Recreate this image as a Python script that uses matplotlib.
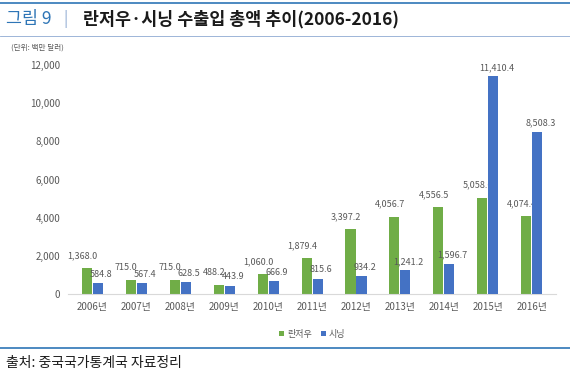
import matplotlib.pyplot as plt
import numpy as np
from matplotlib.lines import Line2D

plt.rcParams['font.family'] = ['Noto Sans CJK KR', 'DejaVu Sans']

years = ["2006년", "2007년", "2008년", "2009년", "2010년", "2011년",
         "2012년", "2013년", "2014년", "2015년", "2016년"]
lanzhou = [1368.0, 715.0, 715.0, 488.2, 1060.0, 1879.4,
           3397.2, 4056.7, 4556.5, 5058.6, 4074.4]
xining = [584.8, 567.4, 628.5, 443.9, 666.9, 815.6,
          934.2, 1241.2, 1596.7, 11410.4, 8508.3]
yticks = [0, 2000, 4000, 6000, 8000, 10000, 12000]

GREEN = "#70ad47"
BLUE = "#4472c4"
GRAY = "#595959"

fig = plt.figure(figsize=(5.7, 3.8), dpi=100)
ax = fig.add_axes([0.12, 0.226, 0.855, 0.603])

x = np.arange(len(years))
w = 0.23
ax.bar(x - 0.125, lanzhou, w, color=GREEN, label="란저우", zorder=2)
ax.bar(x + 0.125, xining, w, color=BLUE, label="시닝", zorder=3)

for xi, v in zip(x, lanzhou):
    ax.text(xi - 0.23, v + 420, f"{v:,.1f}", ha="center", va="bottom",
            fontsize=6.5, color=GRAY, zorder=1)
for xi, v in zip(x, xining):
    ax.text(xi + 0.2, v + 220, f"{v:,.1f}", ha="center", va="bottom",
            fontsize=6.5, color=GRAY, zorder=4)

ax.set_xlim(-0.55, len(years) - 0.45)
ax.set_ylim(0, 12000)
ax.set_yticks(yticks)
ax.set_yticklabels([f"{t:,}" for t in yticks], fontsize=7, color=GRAY)
ax.set_xticks(x)
ax.set_xticklabels(years, fontsize=7, color=GRAY)
ax.tick_params(length=0, pad=6)
for s in ["top", "right", "left"]:
    ax.spines[s].set_visible(False)
ax.spines["bottom"].set_color("#d9d9d9")

ax.legend(loc="upper center", bbox_to_anchor=(0.5, -0.12), ncol=2, frameon=False,
          fontsize=6.5, handlelength=0.6, handleheight=0.6, columnspacing=1.0,
          handletextpad=0.3, labelcolor=GRAY)

# header / footer
fig.add_artist(Line2D([0, 1], [0.992, 0.992], color="#2e75b6", lw=1.2))
fig.add_artist(Line2D([0, 1], [0.906, 0.906], color="#8eaad2", lw=0.6))
fig.add_artist(Line2D([0, 1], [0.085, 0.085], color="#2e75b6", lw=1.2))

fig.text(0.01, 0.95, "그림 9", fontsize=12.5, color="#2e75b6", va="center")
fig.text(0.112, 0.95, "|", fontsize=11, color="#8eaad2", va="center")
fig.text(0.145, 0.95, "란저우·시닝 수출입 총액 추이(2006-2016)", fontsize=12.5,
         color="#1a1a1a", va="center", fontweight="bold")
fig.text(0.02, 0.876, "(단위: 백만 달러)", fontsize=5.5, color=GRAY, va="center")
fig.text(0.01, 0.045, "출처: 중국국가통계국 자료정리", fontsize=10, color="#1a1a1a", va="center")

fig.savefig("out.png", dpi=100)
